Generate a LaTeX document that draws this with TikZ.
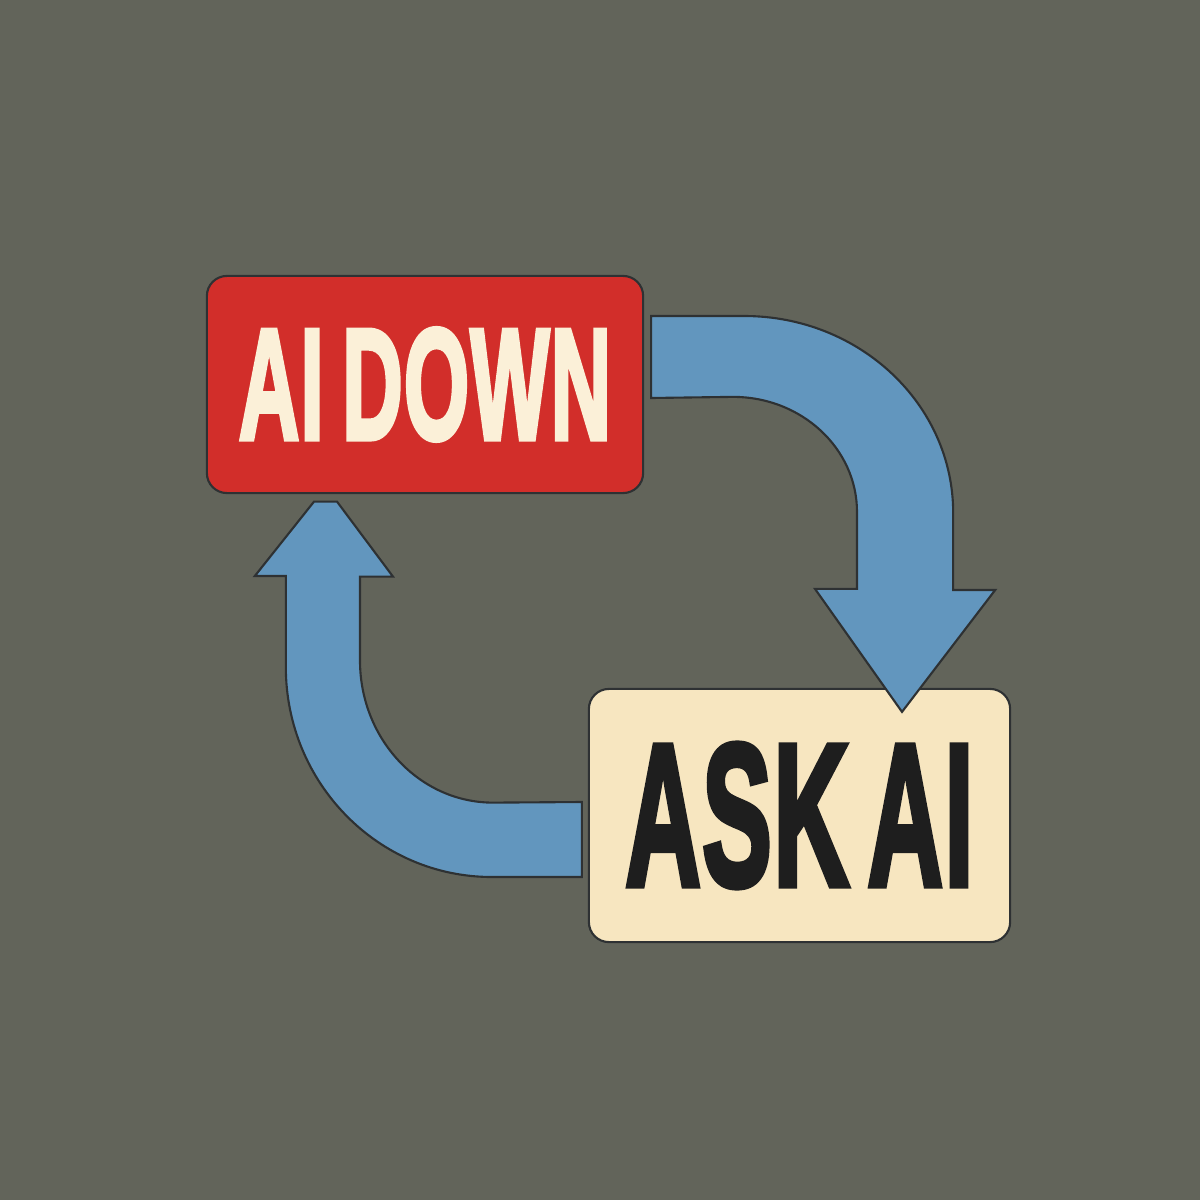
\documentclass[tikz,border=0pt]{standalone}
\usepackage{fontspec}
\usepackage{graphicx}
\newfontfamily\signfont{Liberation Sans}[FakeBold=3.5, LetterSpace=1.5]
\usetikzlibrary{calc}
\definecolor{bggray}{HTML}{62645A}
\definecolor{signred}{HTML}{D22E2A}
\definecolor{signcream}{HTML}{F7E6C0}
\definecolor{lettercream}{HTML}{FBF0D8}
\definecolor{arrowblue}{HTML}{6296BE}
\definecolor{edgedark}{HTML}{2E3133}
\definecolor{letterblack}{HTML}{1E1E1E}

\begin{document}
\begin{tikzpicture}[x=0.01cm, y=-0.01cm,
    signbox/.style={rectangle, rounded corners=0.2cm, draw=edgedark, line width=0.6pt, inner sep=0pt},
    rednode/.style={signbox, fill=signred, text=lettercream, minimum width=4.36cm, minimum height=2.17cm},
    creamnode/.style={signbox, fill=signcream, text=letterblack, minimum width=4.21cm, minimum height=2.53cm},
    bigarrow/.style={fill=arrowblue, draw=edgedark, line width=0.6pt, line join=miter}
   ]
   \fill[bggray] (0,0) rectangle (1200,1200);
   \useasboundingbox (0,0) rectangle (1200,1200);

   \node[rednode]   (aidown) at (425,384.5) {\resizebox{3.72cm}{1.10cm}{\signfont\bfseries AI\hspace{0.22em}DOWN}};
   \node[creamnode] (askai)  at (799.5,815.5) {\resizebox{3.48cm}{1.41cm}{\signfont\bfseries ASK\hspace{0.18em}AI}};

   % down arrow, from AI DOWN to ASK AI
   \draw[bigarrow] ($(aidown.east)+(7,-68.5)$) -- ++(93,0)
      arc[start angle=-90, end angle=0, x radius=209, y radius=197]
      -- ++(0,77) -- ++(42,0) -- ($(askai.north)+(102.5,24)$) -- ++(-87,-123) -- ++(42,0) -- ++(0,-77)
      arc[start angle=0, end angle=-90, x radius=124, y radius=115]
      -- ($(aidown.east)+(7,13.5)$) -- cycle;
   % up arrow, from ASK AI back to AI DOWN
   \draw[bigarrow] ($(askai.west)+(-6,61.5)$) -- ++(-90,0)
      arc[start angle=90, end angle=180, x radius=206, y radius=210]
      -- ++(0,-91) -- ++(-31,0) -- ($(aidown.south)+(-111,7.5)$) -- ++(23,0) -- ++(56,75) -- ++(-33,0) -- ++(0,84)
      arc[start angle=180, end angle=90, x radius=133, y radius=142]
      -- ($(askai.west)+(-6,-13.5)$) -- cycle;
 \end{tikzpicture}
\end{document}
